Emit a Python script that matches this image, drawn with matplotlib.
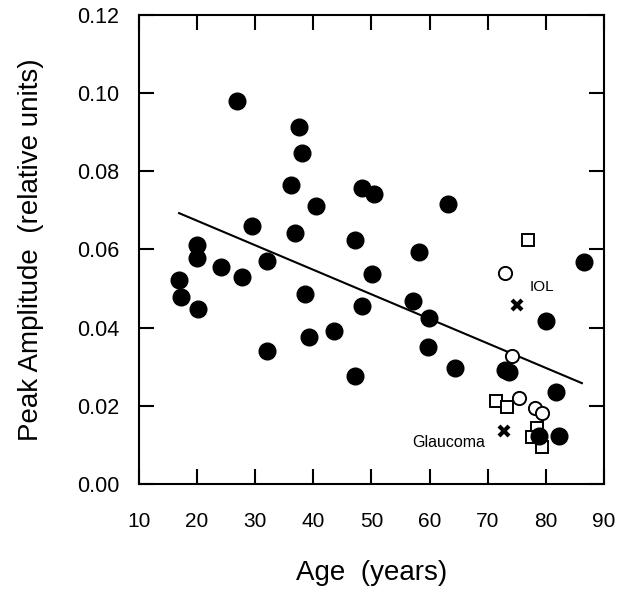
import numpy as np
import matplotlib
matplotlib.use("Agg")
import matplotlib.pyplot as plt

plt.rcParams["font.family"] = ["Liberation Sans", "DejaVu Sans"]

# ---- data ------------------------------------------------------------
# normal subjects (filled circles)
normal_age = [16.9, 17.2, 20.0, 20.0, 20.2, 24.1, 26.8, 27.7, 29.4, 32.0,
              32.0, 36.2, 36.9, 37.6, 38.0, 38.5, 39.3, 40.5, 43.6, 47.2,
              47.2, 48.4, 48.4, 50.1, 50.5, 57.2, 58.1, 59.8, 59.9, 63.1,
              64.4, 72.9, 73.7, 78.9, 80.0, 81.7, 82.3, 86.5]
normal_amp = [0.0522, 0.0478, 0.0612, 0.0578, 0.0448, 0.0556, 0.0980, 0.0529,
              0.0660, 0.0571, 0.0339, 0.0766, 0.0643, 0.0913, 0.0848, 0.0486,
              0.0375, 0.0710, 0.0392, 0.0623, 0.0276, 0.0456, 0.0757, 0.0537,
              0.0742, 0.0467, 0.0594, 0.0351, 0.0425, 0.0716, 0.0296, 0.0292,
              0.0287, 0.0123, 0.0416, 0.0236, 0.0123, 0.0569]

# open circles
circ_age = [73.0, 74.2, 75.4, 78.1, 79.4]
circ_amp = [0.0539, 0.0328, 0.0219, 0.0195, 0.0181]

# open squares
sq_age = [76.9, 71.4, 73.4, 78.5, 77.6, 79.4]
sq_amp = [0.0624, 0.0213, 0.0198, 0.0143, 0.0121, 0.0095]

# crosses (IOL, glaucoma)
x_age = [75.0, 72.8]
x_amp = [0.0458, 0.0136]

# regression line end points
fit_age = [16.9, 86.2]
fit_amp = [0.0693, 0.0258]

# ---- figure -----------------------------------------------------------
fig = plt.figure(figsize=(6.3, 5.95), dpi=100)
ax = fig.add_axes([0.2206, 0.1866, 0.9587 - 0.2206, 0.9748 - 0.1866])

ax.plot(fit_age, fit_amp, color="black", lw=1.5, zorder=2)
ax.plot(sq_age, sq_amp, "s", mfc="white", mec="black", ms=9, mew=1.4,
        ls="none", zorder=3)
ax.plot(normal_age, normal_amp, "o", color="black", ms=12, mec="black",
        ls="none", zorder=3.5)
ax.plot(circ_age, circ_amp, "o", mfc="white", mec="black", ms=9.5, mew=1.4,
        ls="none", zorder=4)
ax.plot(x_age, x_amp, "x", color="black", ms=7.5, mew=3, ls="none", zorder=4)

ax.text(79.3, 0.0505, "IOL", fontsize=11, ha="center", va="center")
ax.text(69.6, 0.0106, "Glaucoma", fontsize=11.5, ha="right", va="center")

ax.set_xlim(10, 90)
ax.set_ylim(0, 0.12)
ax.set_xticks(np.arange(10, 91, 10))
ax.set_yticks(np.arange(0, 0.121, 0.02))
ax.set_yticklabels([f"{v:.2f}" for v in np.arange(0, 0.121, 0.02)])

for s in ax.spines.values():
    s.set_linewidth(1.5)
ax.tick_params(direction="in", length=11, width=1.5, top=True, right=True)
ax.tick_params(axis="x", pad=20, labelsize=15)
ax.tick_params(axis="y", pad=14, labelsize=15.5)

ax.set_xlabel("Age  (years)", fontsize=20, labelpad=21)
ax.set_ylabel("Peak Amplitude  (relative units)", fontsize=20, labelpad=24)

fig.savefig("out.png", dpi=100)
